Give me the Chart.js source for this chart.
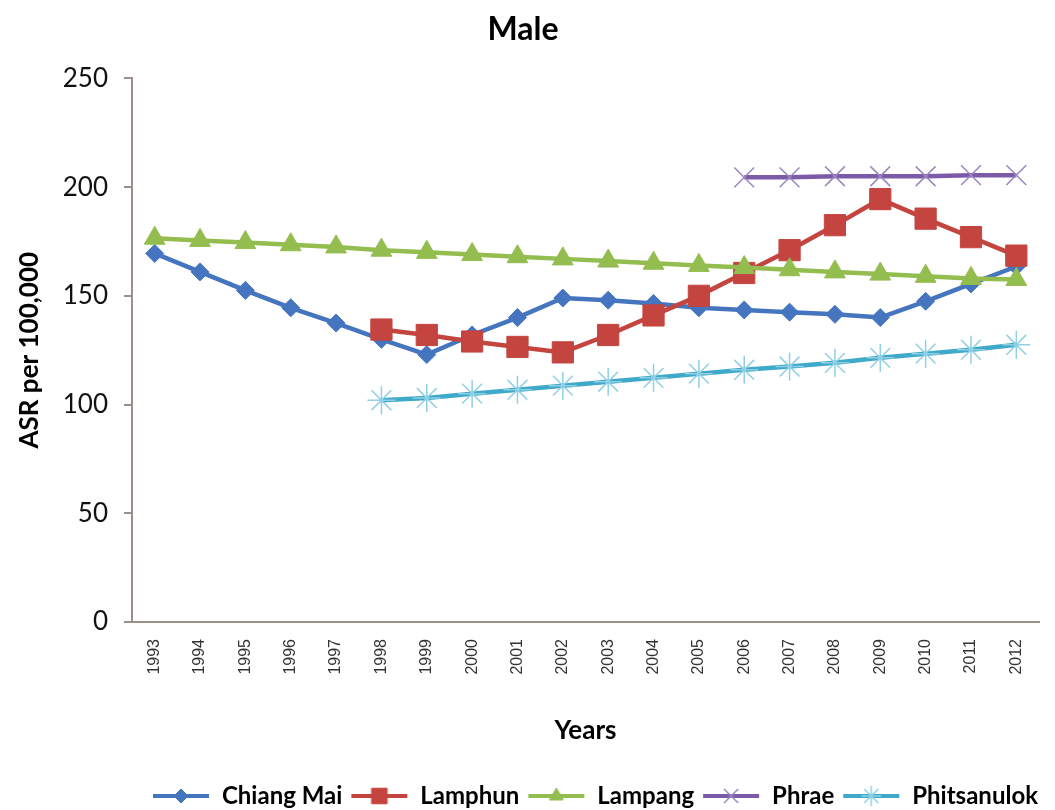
<!DOCTYPE html>
<html>
<head>
<meta charset="utf-8">
<script src="https://cdn.jsdelivr.net/npm/chart.js@4.4.1/dist/chart.umd.min.js"></script>
<style>
  html, body { margin: 0; padding: 0; background: #fff; }
  #wrap { width: 1055px; height: 810px; }
</style>
</head>
<body>
<div id="wrap"><canvas id="chart" width="1055" height="810"></canvas></div>
<script>
// --- data ---
const years = ['1993', '1994', '1995', '1996', '1997', '1998', '1999', '2000', '2001', '2002',
               '2003', '2004', '2005', '2006', '2007', '2008', '2009', '2010', '2011', '2012'];

const chiangMai = [169.5, 161, 152.5, 144.5, 137.5, 130, 123, 132, 140, 149,
                   148, 146.5, 144.5, 143.5, 142.5, 141.5, 140, 147.5, 155.5, 163.5];
const lamphun = [null, null, null, null, null, 134.5, 132, 129, 126.5, 124,
                 132, 141, 150, 160.5, 171, 182.5, 194.5, 185.5, 177, 168.5];
const lampang = [176.5, 175.5, 174.5, 173.5, 172.5, 171, 170, 169, 168, 167,
                 166, 165, 164, 163, 162, 161, 160, 159, 158, 157.5];
const phrae = [null, null, null, null, null, null, null, null, null, null,
               null, null, null, 204.5, 204.5, 205, 205, 205, 205.5, 205.5];
const phitsanulok = [null, null, null, null, null, 102, 103, 105, 106.8, 108.7,
                     110.5, 112.3, 114.2, 116, 117.5, 119.2, 121.5, 123.4, 125.2, 127.5];

const FONT = 'Lato, "Open Sans", sans-serif';
const AXIS_GREY = '#9c8f8b';

// legend swatch: a short line with the marker on top
function swatch(lineColor, markerColor, style, radius, markerWidth) {
    const c = document.createElement('canvas');
    c.width = 58;
    c.height = 26;
    const ctx = c.getContext('2d');
    ctx.strokeStyle = lineColor;
    ctx.lineWidth = 4;
    ctx.beginPath();
    ctx.moveTo(1, 13);
    ctx.lineTo(57, 13);
    ctx.stroke();
    ctx.fillStyle = markerColor;
    ctx.strokeStyle = markerColor;
    ctx.lineWidth = markerWidth;
    Chart.helpers.drawPoint(ctx, {
        pointStyle: style, radius: radius, rotation: 0, borderWidth: markerWidth
    }, 29, 13);
    return c;
}

function series(label, data, color, markerColor, style, radius, markerWidth, legendRadius) {
    return {
        label: label,
        data: data,
        borderColor: color,
        backgroundColor: markerColor,
        borderWidth: 4.5,
        pointStyle: style,
        pointRadius: radius,
        pointBorderColor: markerColor,
        pointBackgroundColor: markerColor,
        pointBorderWidth: markerWidth,
        tension: 0,
        legendSwatch: swatch(color, markerColor, style, legendRadius, markerWidth)
    };
}

const blue = '#4675c0';
const red = '#c4443f';
const green = '#93bd4f';
const purple = '#7b5aa8';
const cyan = '#3ea9c9';

const datasets = [
    series('Chiang Mai', chiangMai, blue, blue, 'rectRot', 9, 1, 7),
    series('Lamphun', lamphun, red, red, 'rect', 15, 1, 11),
    series('Lampang', lampang, green, green, 'triangle', 12, 1, 8),
    series('Phrae', phrae, purple, '#9a86c0', 'crossRot', 14, 1.5, 10),
    series('Phitsanulok', phitsanulok, cyan, '#8fd0e4', 'star', 14, 1.5, 10)
];
// later datasets are drawn on top, as in the reference
datasets.forEach((d, i) => { d.order = 5 - i; });

new Chart(document.getElementById('chart'), {
    type: 'line',
    data: { labels: years, datasets: datasets },
    options: {
        responsive: false,
        animation: false,
        layout: { padding: { left: 0, right: 9, top: 0, bottom: -8 } },
        plugins: {
            tooltip: { enabled: false },
            title: {
                display: true,
                text: 'Male',
                color: '#000',
                font: { family: FONT, size: 32, weight: 'bold' },
                padding: { top: 10, bottom: 30 }
            },
            legend: {
                display: true,
                position: 'bottom',
                align: 'end',
                labels: {
                    usePointStyle: true,
                    pointStyleWidth: 58,
                    boxHeight: 24,
                    padding: 8,
                    color: '#000',
                    font: { family: FONT, size: 24, weight: 'bold' },
                    generateLabels: function (chart) {
                        return chart.data.datasets.map((d, i) => ({
                            text: d.label,
                            pointStyle: d.legendSwatch,
                            fillStyle: d.borderColor,
                            strokeStyle: d.borderColor,
                            lineWidth: 0,
                            fontColor: '#000',
                            hidden: false,
                            datasetIndex: i
                        }));
                    }
                }
            }
        },
        scales: {
            x: {
                type: 'category',
                offset: true,
                grid: { display: true, drawOnChartArea: false, drawTicks: false },
                border: { display: true, color: AXIS_GREY, width: 2 },
                ticks: {
                    minRotation: 90,
                    maxRotation: 90,
                    autoSkip: false,
                    padding: 17,
                    color: '#333',
                    font: { family: '"Liberation Sans", Arial, sans-serif', size: 16 }
                },
                title: {
                    display: true,
                    text: 'Years',
                    color: '#000',
                    font: { family: FONT, size: 26, weight: 'bold' },
                    padding: { top: 4, bottom: 30 }
                },
                afterFit: function (scale) { scale.height = 154; }
            },
            y: {
                min: 0,
                max: 250,
                grid: {
                    display: true,
                    drawOnChartArea: false,
                    drawTicks: true,
                    tickLength: 8,
                    color: AXIS_GREY,
                    lineWidth: 2
                },
                border: { display: true, color: AXIS_GREY, width: 2 },
                ticks: {
                    stepSize: 50,
                    padding: 16,
                    color: '#111',
                    font: { family: FONT, size: 26 }
                },
                title: {
                    display: true,
                    text: 'ASR per 100,000',
                    color: '#000',
                    font: { family: FONT, size: 26, weight: 'bold' },
                    padding: { top: 14, bottom: 0 }
                },
                afterFit: function (scale) { scale.width = 132; }
            }
        }
    }
});
</script>
</body>
</html>
